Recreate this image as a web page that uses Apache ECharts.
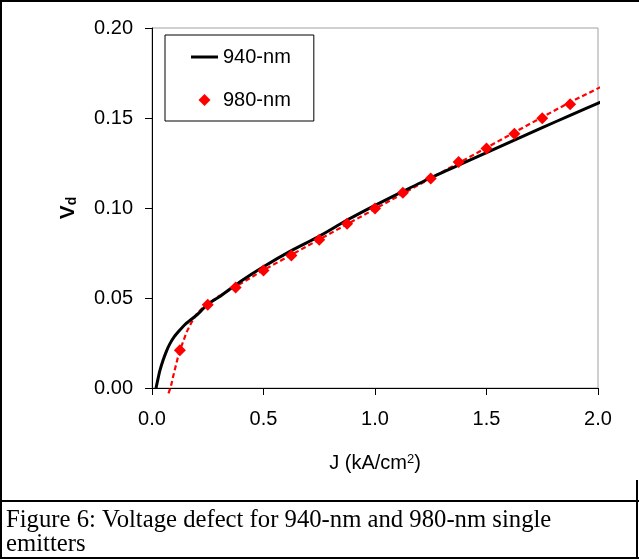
<!DOCTYPE html>
<html><head><meta charset="utf-8">
<script src="https://cdn.jsdelivr.net/npm/echarts@6/dist/echarts.min.js"></script>
<style>html,body{margin:0;padding:0;background:#fff}#c{width:639px;height:559px}</style>
</head><body><div id="c"></div>
<script>
// 940-nm measured curve
const j940 = [0.018,0.025,0.035,0.05,0.065,0.08,0.1,0.125,0.15,0.2,0.25,0.3,0.4,0.5,0.625,0.75,0.875,1.0,1.125,1.25,1.375,1.5,1.625,1.75,1.875,2.025];
const vd940 = [0,0.004,0.0095,0.0155,0.0205,0.0245,0.0285,0.0322,0.0355,0.0405,0.0465,0.0505,0.0595,0.0674,0.0763,0.0843,0.0933,0.1015,0.1092,0.1168,0.1238,0.1307,0.1377,0.1446,0.1515,0.1595];
// 980-nm measured points
const j980 = [0.125,0.25,0.375,0.5,0.625,0.75,0.875,1.0,1.125,1.25,1.375,1.5,1.625,1.75,1.875];
const vd980 = [0.021,0.0462,0.0558,0.0653,0.0736,0.0824,0.0912,0.0997,0.1085,0.1164,0.1255,0.133,0.1413,0.1498,0.1577];
// 980-nm fit (dotted)
const jFit = [0.074,0.085,0.095,0.105,0.115,0.125,0.14,0.155,0.175,0.2,0.225,0.25,0.3,0.375,0.5,0.625,0.75,0.875,1.0,1.125,1.25,1.375,1.5,1.625,1.75,1.875,2.022];
const vdFit = [-0.003,0.001,0.0065,0.0115,0.0165,0.021,0.0258,0.031,0.036,0.041,0.0443,0.0466,0.051,0.0563,0.0655,0.074,0.0825,0.091,0.0995,0.108,0.1165,0.125,0.1335,0.142,0.1505,0.1588,0.1678];
// axes
const xMin = 0, xMax = 2, xStep = 0.5;
const yMin = 0, yMax = 0.2, yStep = 0.05;
const seriesNames = ['940-nm', '980-nm'];
const xTitle = 'J (kA/cm{sup|2})';
const yTitle = '{v|V}{sub|d}';
const caption1 = 'Figure 6: Voltage defect for 940-nm and 980-nm single';
const caption2 = 'emitters';

const zip = (a, b) => a.map((v, i) => [v, b[i]]);
const FONT = '"Liberation Sans", Arial, sans-serif';
const SERIF = '"Liberation Serif", "Times New Roman", serif';

const chart = echarts.init(document.getElementById('c'), null, {renderer: 'canvas'});
chart.setOption({
  animation: false,
  backgroundColor: '#fff',
  grid: {left: 152, right: 41, top: 28, bottom: 171, show: true, borderColor: '#a0a0a0', borderWidth: 1, backgroundColor: 'transparent'},
  xAxis: {
    type: 'value', min: xMin, max: xMax, interval: xStep,
    axisLine: {show: true, onZero: false, lineStyle: {color: '#000', width: 1}},
    axisTick: {show: true, inside: false, length: 7, lineStyle: {color: '#000'}},
    splitLine: {show: false},
    axisLabel: {color: '#000', fontFamily: FONT, fontSize: 20, margin: 21, formatter: v => v.toFixed(1)},
    name: xTitle, nameLocation: 'middle', nameGap: 65,
    nameTextStyle: {color: '#000', fontFamily: FONT, fontSize: 20,
      rich: {sup: {fontSize: 13, verticalAlign: 'top', color: '#000', fontFamily: FONT, padding: [0,0,8,0]}}}
  },
  yAxis: {
    type: 'value', min: yMin, max: yMax, interval: yStep,
    axisLine: {show: true, onZero: false, lineStyle: {color: '#000', width: 1}},
    axisTick: {show: true, inside: false, length: 7, lineStyle: {color: '#000'}},
    splitLine: {show: false},
    axisLabel: {color: '#000', fontFamily: FONT, fontSize: 20, margin: 19, formatter: v => v.toFixed(2)},
    name: yTitle, nameLocation: 'middle', nameGap: 73, nameRotate: 90,
    nameTextStyle: {color: '#000', fontFamily: FONT, fontWeight: 'bold',
      rich: {v: {fontSize: 21, fontWeight: 'bold', fontFamily: FONT, color: '#000'},
             sub: {fontSize: 14, fontWeight: 'bold', fontFamily: FONT, color: '#000', padding: [8,0,0,0]}}}
  },
  legend: {
    orient: 'vertical', left: 165, top: 35,
    padding: [12, 23, 11, 25], itemGap: 23, itemWidth: 27, itemHeight: 15,
    borderColor: '#000', borderWidth: 1, backgroundColor: '#fff',
    selectedMode: false,
    textStyle: {color: '#000', fontFamily: FONT, fontSize: 20},
    data: [{name: seriesNames[0], icon: 'path://M0,0H27V3H0Z'}, {name: seriesNames[1]}]
  },
  series: [
    {type: 'line', name: 'fit', data: zip(jFit, vdFit), symbol: 'none', clip: false, silent: true, z: 2,
     lineStyle: {color: '#ff0000', width: 2.2, type: [5, 3]}},
    {type: 'line', name: seriesNames[0], data: zip(j940, vd940), symbol: 'none', clip: false, z: 3, smooth: 0.2,
     lineStyle: {color: '#000', width: 3}, itemStyle: {color: '#000'}},
    {type: 'line', name: seriesNames[1], data: zip(j980, vd980), symbol: 'diamond', symbolSize: 12, clip: false, z: 4,
     lineStyle: {opacity: 0}, itemStyle: {color: '#ff0000'}}
  ],
  graphic: [
    {type: 'line', shape: {x1: 0, y1: 1, x2: 639, y2: 1}, style: {stroke: '#000', lineWidth: 2}},
    {type: 'line', shape: {x1: 1, y1: 0, x2: 1, y2: 559}, style: {stroke: '#000', lineWidth: 2}},
    {type: 'line', shape: {x1: 0, y1: 501, x2: 639, y2: 501}, style: {stroke: '#000', lineWidth: 2}},
    {type: 'line', shape: {x1: 0, y1: 558, x2: 639, y2: 558}, style: {stroke: '#000', lineWidth: 2}},
    {type: 'line', shape: {x1: 637, y1: 480, x2: 637, y2: 559}, style: {stroke: '#000', lineWidth: 2}},
    {type: 'text', x: 6, y: 521, style: {text: caption1, font: '24.7px ' + SERIF, fill: '#000', verticalAlign: 'middle'}},
    {type: 'text', x: 6, y: 545, style: {text: caption2, font: '24.7px ' + SERIF, fill: '#000', verticalAlign: 'middle'}}
  ]
});
</script></body></html>
